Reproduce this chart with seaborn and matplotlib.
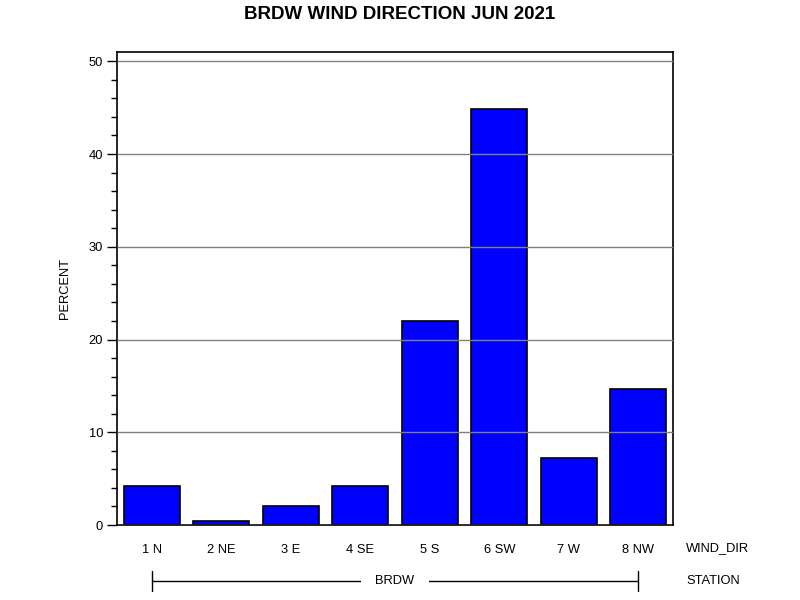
import pandas as pd
import matplotlib
matplotlib.use("Agg")
import matplotlib.pyplot as plt
import matplotlib.transforms as mtransforms
from matplotlib.ticker import MultipleLocator
import seaborn as sns

# wind direction share for the station
wind_dir = ['1 N', '2 NE', '3 E', '4 SE', '5 S', '6 SW', '7 W', '8 NW']
percent = [4.2, 0.4, 2.0, 4.2, 22.0, 44.9, 7.2, 14.7]
station = 'BRDW'

data = pd.DataFrame({'WIND_DIR': wind_dir, 'PERCENT': percent})

sns.set_style('white')
plt.rcParams['font.family'] = ['Liberation Sans', 'DejaVu Sans']
plt.rcParams['text.color'] = 'black'
plt.rcParams['xtick.color'] = 'black'
plt.rcParams['ytick.color'] = 'black'
plt.rcParams['axes.labelcolor'] = 'black'

fig = plt.figure(figsize=(8, 6), dpi=100)
ax = fig.add_axes([117 / 800, 75 / 600, 556 / 800, 473 / 600])

sns.barplot(data=data, x='WIND_DIR', y='PERCENT', color='#0000ff',
            saturation=1, width=0.8, edgecolor='black', linewidth=1.2, ax=ax)

ax.set_xlim(-0.5, len(wind_dir) - 0.5)
ax.set_ylim(0, 51)
ax.yaxis.set_major_locator(MultipleLocator(10))
ax.yaxis.set_minor_locator(MultipleLocator(2))
ax.tick_params(axis='y', which='major', direction='out', length=7, width=1,
               labelsize=9.3, pad=3, left=True)
ax.tick_params(axis='y', which='minor', direction='out', length=4, width=1,
               left=True)
ax.tick_params(axis='x', length=0, labelsize=9.3, pad=14)

ax.set_axisbelow(False)
ax.yaxis.grid(True, color='#808080', linewidth=1)
ax.xaxis.grid(False)
for s in ax.spines.values():
    s.set_visible(True)
    s.set_color('black')
    s.set_linewidth(1.2)

ax.set_xlabel('')
ax.set_ylabel('PERCENT', fontsize=9.3, labelpad=13)

fig.suptitle('BRDW WIND DIRECTION JUN 2021', fontsize=13.5, fontweight='bold', y=0.99)

# group axis labels below the bars
trans = mtransforms.blended_transform_factory(ax.transData, ax.transAxes)
ax.text(686 / 800, 1 - 548 / 600, 'WIND_DIR', transform=fig.transFigure,
        fontsize=9.3, ha='left', va='center')
ax.text(686 / 800, 1 - 581 / 600, 'STATION', transform=fig.transFigure,
        fontsize=9.3, ha='left', va='center')

y_line = (525 - 581) / 473
dy = 10 / 473
ax.plot([0, len(wind_dir) - 1], [y_line, y_line], color='black', lw=1,
        transform=trans, clip_on=False)
for xe in [0, len(wind_dir) - 1]:
    ax.plot([xe, xe], [y_line - dy, y_line + dy], color='black', lw=1,
            transform=trans, clip_on=False)
ax.text((len(wind_dir) - 1) / 2, y_line, station, transform=trans, fontsize=9.3,
        ha='center', va='center',
        bbox=dict(facecolor='white', edgecolor='none', pad=10))

fig.savefig('out.png', dpi=100)
